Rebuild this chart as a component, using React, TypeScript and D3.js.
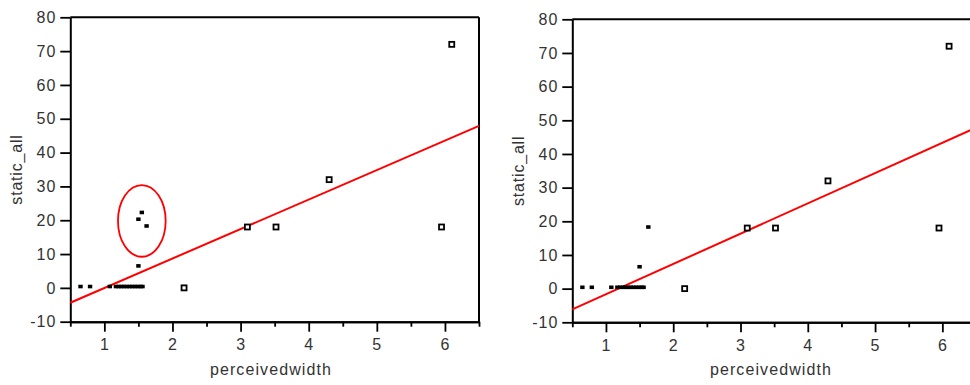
import React, { useEffect, useRef } from "react";
import * as d3 from "d3";

// points sitting on static_all = 0 (filled markers)
const zeroRowX = [0.65, 0.79, 1.08, 1.17, 1.21, 1.25, 1.29, 1.33, 1.37, 1.41, 1.45, 1.49, 1.53, 1.56];
const zeroRowY = 0.4;

// other filled markers
const filledLeft = [
  { x: 1.5, y: 6.5 },
  { x: 1.5, y: 20.3 },
  { x: 1.55, y: 22.3 },
  { x: 1.62, y: 18.3 },
];
const filledRight = [
  { x: 1.5, y: 6.5 },
  { x: 1.63, y: 18.3 },
];

// open square markers (same in both panels)
const openPts = [
  { x: 2.17, y: 0 },
  { x: 3.1, y: 18 },
  { x: 3.52, y: 18 },
  { x: 4.3, y: 32 },
  { x: 5.95, y: 18 },
  { x: 6.1, y: 72 },
];

// fitted lines
const fitLeft = { slope: 8.72, intercept: -8.76 };
const fitRight = { slope: 8.99, intercept: -10.65 };

// circled outliers in the left panel
const circled = { cx: 1.55, cy: 19.8, rx: 0.35, ry: 10.6 };

const xDomain = [0.5, 6.5];
const yDomain = [-10, 80];
const yTicks = [-10, 0, 10, 20, 30, 40, 50, 60, 70, 80];
const xMajor = [1, 2, 3, 4, 5, 6];
const xMinor = [0.5, 1.5, 2.5, 3.5, 4.5, 5.5, 6.5];

const font = "'Liberation Sans', Arial, sans-serif";
const textColor = "#333";

function drawPanel(svg, p) {
  const x = d3.scaleLinear().domain(xDomain).range([p.left, p.right]);
  const y = d3.scaleLinear().domain(yDomain).range([p.bottom, p.top]);
  const g = svg.append("g");

  // frame top + right
  g.append("line")
    .attr("x1", p.left).attr("x2", p.right)
    .attr("y1", p.top).attr("y2", p.top)
    .attr("stroke", "#000").attr("stroke-width", 2);
  g.append("line")
    .attr("x1", p.right).attr("x2", p.right)
    .attr("y1", p.top).attr("y2", p.bottom)
    .attr("stroke", "#000").attr("stroke-width", 2);

  // y axis
  g.append("g")
    .attr("transform", `translate(${p.left},0)`)
    .call(d3.axisLeft(y).tickValues(yTicks).tickSize(10).tickSizeOuter(0).tickPadding(4)
      .tickFormat((d) => String(d)));

  // x axis minor ticks, then major
  g.append("g")
    .attr("transform", `translate(0,${p.bottom})`)
    .call(d3.axisBottom(x).tickValues(xMinor).tickSize(5).tickSizeOuter(0).tickFormat(() => ""));
  g.append("g")
    .attr("transform", `translate(0,${p.bottom})`)
    .call(d3.axisBottom(x).tickValues(xMajor).tickSize(10).tickSizeOuter(0).tickPadding(7)
      .tickFormat((d) => String(d)));

  g.selectAll(".domain").attr("stroke", "#000").attr("stroke-width", 2);
  g.selectAll(".tick line").attr("stroke", "#000").attr("stroke-width", 1.8);
  g.selectAll(".tick text")
    .attr("font-family", font)
    .attr("font-size", 16)
    .attr("letter-spacing", 1)
    .attr("fill", textColor);

  // fit line
  const line = d3.line().x((d) => x(d[0])).y((d) => y(d[1]));
  g.append("path")
    .datum(xDomain.map((v) => [v, p.fit.intercept + p.fit.slope * v]))
    .attr("d", line)
    .attr("fill", "none")
    .attr("stroke", "#f00")
    .attr("stroke-width", 2);

  // filled markers
  const filled = zeroRowX.map((v) => ({ x: v, y: zeroRowY })).concat(p.filled);
  g.selectAll(".filled")
    .data(filled)
    .enter()
    .append("rect")
    .attr("x", (d) => x(d.x) - 2.2)
    .attr("y", (d) => y(d.y) - 1.8)
    .attr("width", 4.4)
    .attr("height", 3.6)
    .attr("fill", "#000");

  // open markers
  g.selectAll(".open")
    .data(openPts)
    .enter()
    .append("rect")
    .attr("x", (d) => x(d.x) - 2.5)
    .attr("y", (d) => y(d.y) - 2.5)
    .attr("width", 5)
    .attr("height", 5)
    .attr("fill", "#fff")
    .attr("stroke", "#000")
    .attr("stroke-width", 1.8);

  if (p.circle) {
    const c = p.circle;
    g.append("ellipse")
      .attr("cx", x(c.cx))
      .attr("cy", y(c.cy))
      .attr("rx", x(c.cx + c.rx) - x(c.cx))
      .attr("ry", y(c.cy - c.ry) - y(c.cy))
      .attr("fill", "none")
      .attr("stroke", "#f00")
      .attr("stroke-width", 1.8);
  }

  // axis titles
  g.append("text")
    .attr("x", p.xTitleX)
    .attr("y", 375)
    .attr("text-anchor", "middle")
    .attr("font-family", font)
    .attr("font-size", 16)
    .attr("letter-spacing", 1.1)
    .attr("fill", textColor)
    .text("perceivedwidth");

  g.append("text")
    .attr("transform", `translate(${p.yTitleX},${(p.top + p.bottom) / 2}) rotate(-90)`)
    .attr("text-anchor", "middle")
    .attr("font-family", font)
    .attr("font-size", 16)
    .attr("letter-spacing", 0.8)
    .attr("fill", textColor)
    .text("static_all");
}

export default function App() {
  const svgRef = useRef(null);

  useEffect(() => {
    const svg = d3.select(svgRef.current);
    svg.selectAll("*").remove();

    drawPanel(svg, {
      left: 70.3, right: 479, top: 17.3, bottom: 321.7,
      fit: fitLeft, filled: filledLeft, circle: circled,
      xTitleX: 271, yTitleX: 22,
    });
    drawPanel(svg, {
      left: 572.3, right: 976, top: 19.3, bottom: 322.3,
      fit: fitRight, filled: filledRight, circle: null,
      xTitleX: 771, yTitleX: 524,
    });
  }, []);

  return (
    <svg
      ref={svgRef}
      width={970}
      height={385}
      style={{ position: "absolute", left: 0, top: 0, background: "#fff" }}
    />
  );
}
